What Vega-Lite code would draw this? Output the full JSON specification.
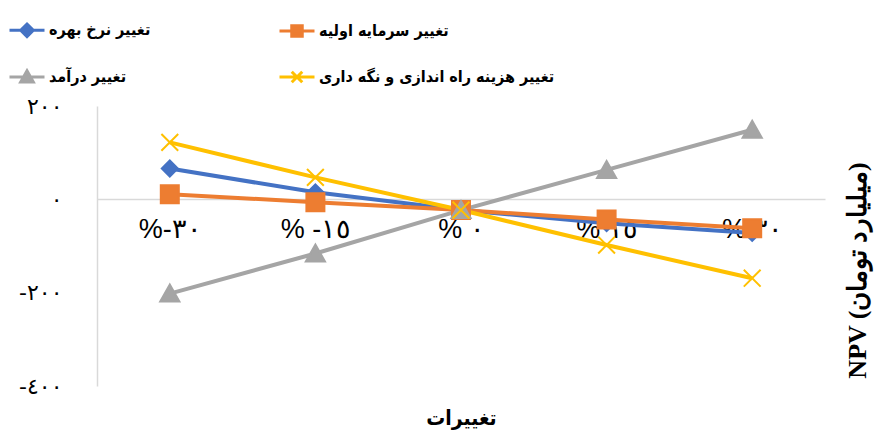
{
  "$schema": "https://vega.github.io/schema/vega-lite/v6.json",
  "width": 728,
  "height": 280,
  "autosize": "none",
  "padding": {"left": 97, "top": 106, "right": 52, "bottom": 49},
  "background": "white",
  "config": {"view": {"stroke": null}},
  "data": {
    "values": [
      {"series": "تغییر نرخ بهره", "change": "-30", "npv": 66},
      {"series": "تغییر نرخ بهره", "change": "-15", "npv": 15},
      {"series": "تغییر نرخ بهره", "change": "0", "npv": -23},
      {"series": "تغییر نرخ بهره", "change": "15", "npv": -51},
      {"series": "تغییر نرخ بهره", "change": "30", "npv": -72},
      {"series": "تغییر سرمایه اولیه", "change": "-30", "npv": 11},
      {"series": "تغییر سرمایه اولیه", "change": "-15", "npv": -6},
      {"series": "تغییر سرمایه اولیه", "change": "0", "npv": -23},
      {"series": "تغییر سرمایه اولیه", "change": "15", "npv": -43},
      {"series": "تغییر سرمایه اولیه", "change": "30", "npv": -62},
      {"series": "تغییر درآمد", "change": "-30", "npv": -202},
      {"series": "تغییر درآمد", "change": "-15", "npv": -116},
      {"series": "تغییر درآمد", "change": "0", "npv": -23},
      {"series": "تغییر درآمد", "change": "15", "npv": 63},
      {"series": "تغییر درآمد", "change": "30", "npv": 149},
      {"series": "تغییر هزینه راه اندازی و نگه داری", "change": "-30", "npv": 122},
      {"series": "تغییر هزینه راه اندازی و نگه داری", "change": "-15", "npv": 47},
      {"series": "تغییر هزینه راه اندازی و نگه داری", "change": "0", "npv": -23},
      {"series": "تغییر هزینه راه اندازی و نگه داری", "change": "15", "npv": -98},
      {"series": "تغییر هزینه راه اندازی و نگه داری", "change": "30", "npv": -169}
    ]
  },
  "encoding": {
    "x": {
      "field": "change",
      "type": "ordinal",
      "sort": ["-30", "-15", "0", "15", "30"],
      "scale": {"type": "point", "padding": 0.5},
      "axis": {
        "orient": "bottom",
        "offset": -187,
        "ticks": false,
        "domainColor": "#D9D9D9",
        "domainWidth": 1.5,
        "labelAngle": 0,
        "labelPadding": 17,
        "labelFont": "Liberation Sans",
        "labelFontSize": 27,
        "labelColor": "black",
        "labelExpr": "datum.value == '-30' ? '%-٣٠' : datum.value == '-15' ? '% -١٥' : datum.value == '0' ? '% ٠' : datum.value == '15' ? '% ١٥' : '% ٣٠'",
        "title": "تغییرات",
        "titleFont": "DejaVu Sans Condensed",
        "titleFontSize": 21,
        "titleFontWeight": "bold",
        "titleColor": "black",
        "titleX": 364,
        "titleY": 219,
        "titleBaseline": "middle",
        "titleAlign": "center"
      }
    },
    "y": {
      "field": "npv",
      "type": "quantitative",
      "scale": {"domain": [-400, 200], "nice": false, "zero": false},
      "axis": {
        "orient": "left",
        "values": [-400, -200, 0, 200],
        "grid": false,
        "ticks": false,
        "domainColor": "#D9D9D9",
        "domainWidth": 1.5,
        "labelPadding": 35,
        "labelFont": "DejaVu Sans",
        "labelFontSize": 22,
        "labelColor": "black",
        "labelExpr": "datum.value == 200 ? '٢٠٠' : datum.value == 0 ? '٠' : datum.value == -200 ? '-٢٠٠' : '-٤٠٠'",
        "title": "NPV (میلیارد تومان)",
        "titleFont": "Liberation Serif",
        "titleFontSize": 26,
        "titleFontWeight": "bold",
        "titleColor": "black",
        "titleAngle": -90,
        "titleX": 760,
        "titleY": 164,
        "titleAlign": "center",
        "titleBaseline": "middle"
      }
    }
  },
  "resolve": {"legend": {"color": "independent"}},
  "layer": [
    {
      "mark": {"type": "line", "strokeWidth": 4},
      "encoding": {
        "color": {
          "field": "series",
          "type": "nominal",
          "scale": {
            "domain": ["تغییر نرخ بهره", "تغییر سرمایه اولیه", "تغییر درآمد", "تغییر هزینه راه اندازی و نگه داری"],
            "range": ["#4472C4", "#ED7D31", "#A5A5A5", "#FFC000"]
          },
          "legend": {
            "orient": "none",
            "direction": "horizontal",
            "legendX": -89,
            "legendY": -95,
            "columns": 2,
            "columnPadding": 122,
            "rowPadding": 15,
            "padding": 0,
            "title": null,
            "symbolSize": 1225,
            "labelOffset": 3,
            "labelFont": "DejaVu Sans Condensed",
            "labelFontSize": 16,
            "labelFontWeight": "bold",
            "labelColor": "black",
            "labelLimit": 400,
            "encode": {
              "symbols": {
                "update": {
                  "shape": {"signal": "datum.value == 'تغییر نرخ بهره' ? 'M-1,0H1M0,-0.36L0.36,0L0,0.36L-0.36,0Z' : datum.value == 'تغییر سرمایه اولیه' ? 'M-1,0H1M-0.3,-0.3H0.3V0.3H-0.3Z' : datum.value == 'تغییر درآمد' ? 'M-1,0H1M0,-0.36L0.36,0.28L-0.36,0.28Z' : 'M-1,0H1M-0.3,-0.3L0.3,0.3M0.3,-0.3L-0.3,0.3'"},
                  "stroke": {"signal": "scale('color', datum.value)"},
                  "fill": {"signal": "scale('color', datum.value)"},
                  "strokeWidth": {"value": 3},
                  "size": {"value": 1225},
                  "opacity": {"value": 1}
                }
              }
            }
          }
        }
      }
    },
    {
      "mark": {"type": "point", "filled": true, "size": 1600, "strokeWidth": 2, "opacity": 1},
      "encoding": {
        "color": {
          "field": "series",
          "type": "nominal",
          "legend": null
        },
        "shape": {
          "field": "series",
          "type": "nominal",
          "scale": {
            "domain": ["تغییر نرخ بهره", "تغییر سرمایه اولیه", "تغییر درآمد", "تغییر هزینه راه اندازی و نگه داری"],
            "range": [
              "M0,-0.4L0.4,0L0,0.4L-0.4,0Z",
              "M-0.45,-0.45H0.45V0.45H-0.45Z",
              "M0,-0.45L0.48,0.4L-0.48,0.4Z",
              "M-0.42,-0.42L0.42,0.42M0.42,-0.42L-0.42,0.42"
            ]
          },
          "legend": null
        },
        "stroke": {
          "field": "series",
          "type": "nominal",
          "scale": {
            "domain": ["تغییر نرخ بهره", "تغییر سرمایه اولیه", "تغییر درآمد", "تغییر هزینه راه اندازی و نگه داری"],
            "range": ["#4472C4", "#ED7D31", "#A5A5A5", "#FFC000"]
          },
          "legend": null
        }
      }
    }
  ]
}
